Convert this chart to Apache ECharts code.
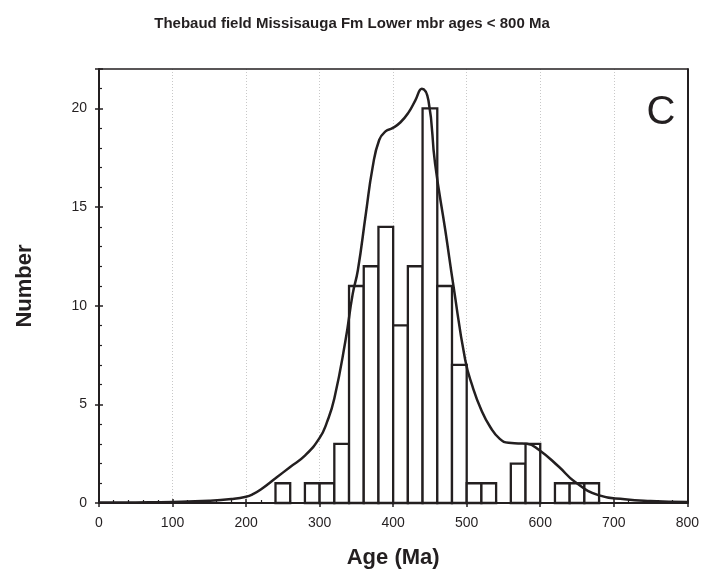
<!DOCTYPE html>
<html>
<head>
<meta charset="utf-8">
<script src="https://cdn.jsdelivr.net/npm/echarts@6/dist/echarts.min.js"></script>
<style>
html,body{margin:0;padding:0;background:#fff;}
#chart{width:702px;height:575px;}
</style>
</head>
<body>
<div id="chart"></div>
<script>
// Histogram bins (start age, Ma), bin width 20 Ma
var binStarts = [240, 280, 300, 320, 340, 360, 380, 400, 420, 440, 460, 480, 500, 520, 560, 580, 620, 640, 660];
var binCounts = [1, 1, 1, 3, 11, 12, 14, 9, 12, 20, 11, 7, 1, 1, 2, 3, 1, 1, 1];
var binWidth = 20;
// Probability density curve (scaled)
var curveAges = [0, 50, 100, 150, 180, 200, 210, 220, 240, 260, 280, 300, 310, 320, 335, 345, 352, 363, 372, 381, 390, 399, 410, 421, 430, 439, 448, 457, 471, 482, 498, 508, 520, 532, 545, 557, 570, 582, 598, 625, 647, 679, 715, 750, 800];
var curveValues = [0.02, 0.03, 0.05, 0.11, 0.2, 0.32, 0.46, 0.68, 1.25, 1.83, 2.4, 3.3, 4.1, 5.3, 8.2, 10.6, 11.8, 14.7, 17.0, 18.4, 18.85, 19.0, 19.3, 19.8, 20.4, 21.0, 20.4, 17.2, 13.8, 11.0, 7.25, 5.9, 4.7, 3.85, 3.25, 3.05, 3.02, 3.0, 2.7, 1.85, 1.08, 0.4, 0.19, 0.1, 0.05];
var xTicks = [0, 100, 200, 300, 400, 500, 600, 700, 800];
var yTicks = [0, 5, 10, 15, 20];

var ink = '#231f20';
var font = '"Liberation Sans", Arial, sans-serif';

var barData = binStarts.map(function (s, i) { return [s, s + binWidth, binCounts[i]]; });
var curveData = curveAges.map(function (a, i) { return [a, curveValues[i]]; });

var chart = echarts.init(document.getElementById('chart'), null, {renderer: 'canvas'});

function xAxisBase(extra) {
  var o = {
    type: 'value', min: xTicks[0], max: xTicks[xTicks.length - 1], interval: 100,
    gridIndex: 0, position: 'bottom'
  };
  for (var k in extra) o[k] = extra[k];
  return o;
}
function yAxisBase(extra) {
  var o = {
    type: 'value', min: 0, max: 22, interval: 5,
    gridIndex: 0, position: 'left'
  };
  for (var k in extra) o[k] = extra[k];
  return o;
}
var hidden = {axisTick: {show: false}, minorTick: {show: false}, axisLabel: {show: false}, splitLine: {show: false}};
function withHidden(o) { for (var k in hidden) o[k] = hidden[k]; return o; }

chart.setOption({
  animation: false,
  backgroundColor: '#fff',
  title: [{
    text: 'Thebaud field Missisauga Fm Lower mbr ages < 800 Ma',
    left: 347, top: 11, textAlign: 'center',
    textStyle: {fontFamily: font, fontSize: 15, fontWeight: 'bold', color: ink}
  }, {
    text: 'C',
    left: 656, top: 88, textAlign: 'center',
    textStyle: {fontFamily: font, fontSize: 40, fontWeight: 'normal', color: ink}
  }],
  grid: {
    left: 99, top: 69, width: 590, height: 434,
    show: false
  },
  xAxis: [
    xAxisBase({
      name: 'Age (Ma)', nameLocation: 'middle', nameGap: 44,
      nameTextStyle: {fontFamily: font, fontSize: 22, fontWeight: 'bold', color: ink},
      axisLine: {show: true, onZero: false, lineStyle: {color: ink, width: 2}},
      axisTick: {show: true, inside: false, length: 4, lineStyle: {color: ink, width: 1.5}},
      minorTick: {show: false},
      axisLabel: {fontFamily: font, fontSize: 14, color: ink, margin: 13,
        formatter: function (v) { return xTicks.indexOf(v) >= 0 ? String(v) : ''; }},
      splitLine: {show: true, lineStyle: {color: '#c8c8c8', type: [1, 2], width: 1}}
    }),
    xAxisBase({
      axisLine: {show: false},
      axisTick: {show: true, inside: true, length: 4, lineStyle: {color: ink, width: 1.5}},
      minorTick: {show: true, splitNumber: 5, length: 3, lineStyle: {color: ink, width: 1.2}},
      axisLabel: {show: false},
      splitLine: {show: false}
    }),
    withHidden(xAxisBase({
      position: 'top',
      axisLine: {show: true, onZero: false, lineStyle: {color: ink, width: 1.5}}
    }))
  ],
  yAxis: [
    yAxisBase({
      name: 'Number', nameLocation: 'middle', nameGap: 63, nameRotate: 90,
      nameTextStyle: {fontFamily: font, fontSize: 22, fontWeight: 'bold', color: ink},
      axisLine: {show: true, onZero: false, lineStyle: {color: ink, width: 2}},
      axisTick: {show: true, inside: false, length: 4, lineStyle: {color: ink, width: 1.5}},
      minorTick: {show: false},
      axisLabel: {fontFamily: font, fontSize: 14, color: ink, margin: 12,
        formatter: function (v) { return yTicks.indexOf(v) >= 0 ? String(v) : ''; }},
      splitLine: {show: false}
    }),
    yAxisBase({
      axisLine: {show: false},
      axisTick: {show: true, inside: true, length: 4, lineStyle: {color: ink, width: 1.5}},
      minorTick: {show: true, splitNumber: 5, length: 3, lineStyle: {color: ink, width: 1.2}},
      axisLabel: {show: false},
      splitLine: {show: false}
    }),
    withHidden(yAxisBase({
      position: 'right',
      axisLine: {show: true, onZero: false, lineStyle: {color: ink, width: 2}}
    }))
  ],
  series: [{
    type: 'custom',
    xAxisIndex: 0, yAxisIndex: 0,
    data: barData,
    encode: {x: [0, 1], y: 2},
    z: 2,
    renderItem: function (params, api) {
      var p0 = api.coord([api.value(0), api.value(2)]);
      var p1 = api.coord([api.value(1), 0]);
      return {
        type: 'rect',
        shape: {x: p0[0], y: p0[1], width: p1[0] - p0[0], height: p1[1] - p0[1]},
        style: {fill: '#fff', stroke: ink, lineWidth: 2.3}
      };
    }
  }, {
    type: 'line',
    xAxisIndex: 0, yAxisIndex: 0,
    data: curveData,
    smooth: 0.5,
    showSymbol: false,
    z: 3,
    lineStyle: {color: ink, width: 2.5}
  }]
});
</script>
</body>
</html>
